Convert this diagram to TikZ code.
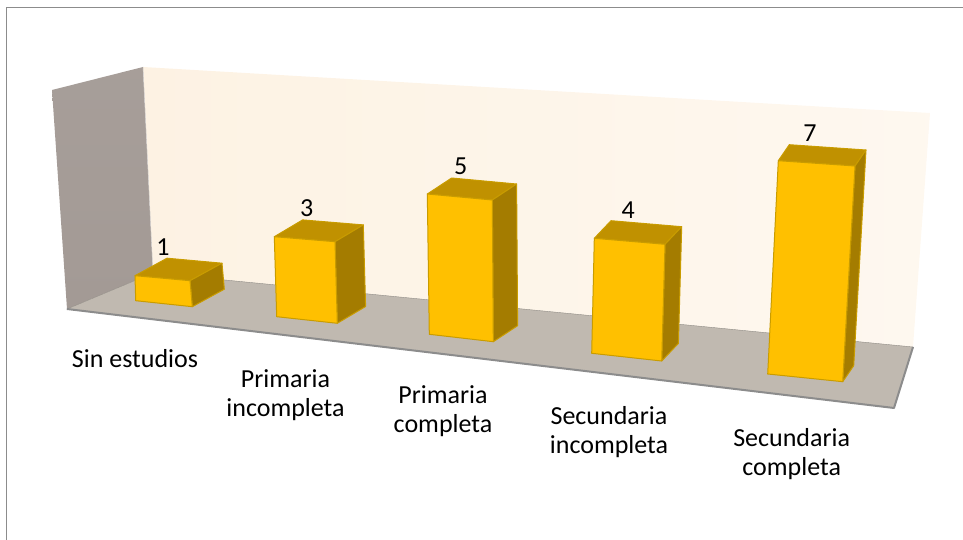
\documentclass[tikz,border=0pt]{standalone}
\usepackage{fontspec}
\setmainfont{Carlito}
\definecolor{barfront}{HTML}{FFC000}
\definecolor{bartop}{HTML}{C09100}
\definecolor{barside}{HTML}{A47C00}
\definecolor{baredge}{HTML}{C99C00}
\definecolor{backwall}{HTML}{FDF2E3}
\definecolor{sidewall}{HTML}{A39A95}
\definecolor{floorgray}{HTML}{C0B9B0}
\definecolor{framegray}{HTML}{8C8C8C}

\tikzset{
	cara/.style={draw=baredge, line width=1pt, line join=round},
	etiqueta/.style={font=\fontsize{26}{29}\selectfont, align=center, inner sep=0pt}
}

\begin{document}
\begin{tikzpicture}[x=1pt, y=-1pt]

		\useasboundingbox (0,0) rectangle (963,540);
		\draw[framegray, line width=1.5pt] (6.5,540) -- (6.5,7.5) -- (963,7.5);

		\shade[left color=backwall, right color=backwall!55!white] (143,67) -- (930,113) -- (913,347) -- (153,273) -- cycle;
		\shade[top color=sidewall!96!white, bottom color=sidewall] (52,90) -- (143,67) -- (153,273) -- (67,309) -- cycle;
		\draw[sidewall!40!white] (143,67) -- (153,273);
		\filldraw[fill=floorgray, draw=floorgray!75!black] (67,309) -- (153,273) -- (913,347) -- (894,408) -- cycle;
		\draw[framegray, line width=2pt, line join=round] (67,309) -- (894,408) -- (913,347);

		\foreach \n/\ax/\ay/\bx/\by/\cx/\cy/\ex/\ey/\dx/\dy/\val/\lx/\ly in {
			1/135/275.7/190/280.7/192.3/306.7/135.7/300.7/32/17.5/1/163/246.7,
			2/274.3/236.7/335/241.7/337.3/323.3/276.7/316.7/28.3/16.8/3/306.7/208.3,
			3/427.3/194/492.3/200/493.3/341.7/429.3/334.3/24.3/16/5/460.7/166,
			4/594.3/238.3/665/244.3/661.7/361/591.7/353.3/16.7/17.6/4/628.3/210,
			5/778.3/160.7/855/166/842.7/381.7/767.7/374/11/16/7/810/133.3}
		{
			\filldraw[cara, fill=bartop] (\ax,\ay) -- (\bx,\by) -- ({\bx+\dx},{\by-\dy}) -- ({\ax+\dx},{\ay-\dy}) -- cycle;
			\filldraw[cara, fill=barside] (\bx,\by) -- (\cx,\cy) -- ({\cx+\dx},{\cy-\dy}) -- ({\bx+\dx},{\by-\dy}) -- cycle;
			\filldraw[cara, fill=barfront] (\ax,\ay) -- (\bx,\by) -- (\cx,\cy) -- (\ex,\ey) -- cycle;
			\node[etiqueta] (valor\n) at (\lx,\ly) {\val};
		}

		\foreach \n/\x/\y/\texto in {1/135/359/{Sin estudios}, 2/285.5/395/{Primaria\\incompleta}, 3/443/411/{Primaria\\completa}, 4/609/432.5/{Secundaria\\incompleta}, 5/791.7/454/{Secundaria\\completa}}
		\node[etiqueta] (cat\n) at (\x,\y) {\texto};

		\end{tikzpicture}
\end{document}
